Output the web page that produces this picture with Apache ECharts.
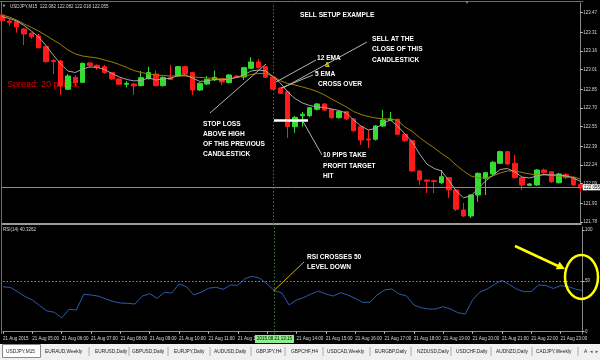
<!DOCTYPE html>
<html><head><meta charset="utf-8">
<script src="https://cdn.jsdelivr.net/npm/echarts@6/dist/echarts.min.js"></script>
<style>html,body{margin:0;padding:0;background:#000;}#c{width:600px;height:360px;}</style>
</head><body><div id="c"></div>
<script>
const categories = ["04:00","04:15","04:30","04:45","05:00","05:15","05:30","05:45","06:00","06:15","06:30","06:45","07:00","07:15","07:30","07:45","08:00","08:15","08:30","08:45","09:00","09:15","09:30","09:45","10:00","10:15","10:30","10:45","11:00","11:15","11:30","11:45","12:00","12:15","12:30","12:45","13:00","13:15","13:30","13:45","14:00","14:15","14:30","14:45","15:00","15:15","15:30","15:45","16:00","16:15","16:30","16:45","17:00","17:15","17:30","17:45","18:00","18:15","18:30","18:45","19:00","19:15","19:30","19:45","20:00","20:15","20:30","20:45","21:00","21:15","21:30","21:45","22:00","22:15","22:30","22:45","23:00","23:15","23:30","23:45"];
const timeTicks = ["21 Aug 2015","21 Aug 05:00","21 Aug 06:00","21 Aug 07:00","21 Aug 08:00","21 Aug 09:00","21 Aug 10:00","21 Aug 11:00","21 Aug 12:00","21 Aug 13:00","21 Aug 14:00","21 Aug 15:00","21 Aug 16:00","21 Aug 17:00","21 Aug 18:00","21 Aug 19:00","21 Aug 20:00","21 Aug 21:00","21 Aug 22:00","21 Aug 23:00"];
const priceTicks = [121.78,121.93,122.09,122.24,122.39,122.55,122.70,122.85,123.01,123.16,123.31,123.47];
const rsiTicks = [0,50,100];

const opens  = [123.451,123.403,123.399,123.338,123.304,123.282,123.196,123.084,123.080,122.852,122.948,122.908,123.064,123.045,123.034,122.986,122.935,122.892,122.894,122.881,122.937,122.975,122.881,122.948,122.959,123.034,122.986,122.846,122.894,122.927,122.937,122.905,122.959,122.951,123.021,123.072,123.034,122.951,122.862,122.832,122.550,122.638,122.638,122.690,122.733,122.690,122.622,122.671,122.612,122.550,122.450,122.448,122.555,122.601,122.609,122.488,122.437,122.192,122.119,122.114,122.097,122.138,122.039,121.877,121.829,121.998,122.133,122.168,122.254,122.348,122.254,122.138,122.076,122.079,122.200,122.186,122.097,122.165,122.141,122.082];
const closes = [123.405,123.391,123.355,123.298,123.276,123.187,123.074,123.076,122.878,122.959,122.905,123.061,123.042,123.029,122.986,122.935,122.892,122.900,122.878,122.945,122.986,122.881,122.948,122.931,123.034,122.975,122.846,122.900,122.932,122.948,122.910,122.967,122.948,123.026,123.072,123.026,122.948,122.852,122.819,122.550,122.625,122.650,122.703,122.733,122.684,122.622,122.671,122.612,122.517,122.442,122.442,122.555,122.604,122.612,122.488,122.437,122.192,122.119,122.109,122.106,122.146,122.039,121.883,121.829,121.998,122.173,122.178,122.262,122.348,122.248,122.138,122.079,122.087,122.200,122.178,122.106,122.168,122.138,122.079,122.055];
const lows   = [123.395,123.363,123.309,123.209,123.258,123.181,123.068,122.975,122.806,122.846,122.878,122.902,123.032,123.007,122.975,122.927,122.886,122.866,122.806,122.874,122.931,122.874,122.874,122.927,122.951,122.967,122.806,122.838,122.886,122.919,122.886,122.898,122.943,122.927,123.015,123.020,122.943,122.846,122.814,122.458,122.501,122.550,122.628,122.680,122.676,122.612,122.616,122.604,122.507,122.402,122.378,122.438,122.547,122.596,122.483,122.426,122.184,122.079,122.014,122.014,122.087,121.974,121.869,121.821,121.812,121.944,121.998,122.160,122.248,122.240,122.131,122.039,122.071,122.071,122.168,122.095,122.091,122.127,122.071,122.018];
const highs  = [123.464,123.419,123.407,123.347,123.310,123.298,123.205,123.096,123.088,122.975,122.967,123.068,123.072,123.052,123.048,122.991,122.943,122.919,122.902,122.999,123.034,123.002,122.955,123.048,123.040,123.040,122.991,122.906,122.959,123.002,122.943,122.975,122.967,123.032,123.110,123.096,123.040,122.959,122.870,122.842,122.636,122.668,122.709,122.741,122.741,122.692,122.676,122.676,122.620,122.555,122.523,122.563,122.684,122.668,122.616,122.495,122.446,122.200,122.123,122.119,122.200,122.143,122.047,121.934,122.006,122.180,122.184,122.273,122.357,122.353,122.321,122.143,122.095,122.208,122.212,122.192,122.176,122.172,122.148,122.082];

const ema5  = [123.438,123.423,123.403,123.367,123.322,123.274,123.205,123.128,123.056,122.999,122.987,123.015,123.032,123.028,123.011,122.979,122.951,122.931,122.919,122.923,122.943,122.927,122.935,122.939,122.963,122.967,122.943,122.915,122.919,122.931,122.927,122.935,122.947,122.967,122.999,123.007,122.999,122.955,122.902,122.830,122.777,122.741,122.721,122.709,122.705,122.692,122.680,122.660,122.604,122.555,122.523,122.535,122.575,122.604,122.555,122.491,122.426,122.329,122.248,122.212,122.192,122.115,122.030,121.976,121.990,122.051,122.111,122.156,122.204,122.212,122.184,122.143,122.135,122.152,122.164,122.160,122.160,122.152,122.135,122.107];
const ema12 = [123.451,123.435,123.411,123.379,123.351,123.322,123.286,123.250,123.213,123.169,123.137,123.120,123.112,123.104,123.088,123.072,123.052,123.028,123.003,122.987,122.975,122.967,122.963,122.959,122.959,122.959,122.951,122.947,122.943,122.939,122.935,122.935,122.947,122.955,122.971,122.979,122.979,122.955,122.919,122.898,122.886,122.870,122.854,122.834,122.806,122.773,122.741,122.709,122.672,122.648,122.632,122.620,122.612,122.612,122.600,122.547,122.511,122.462,122.418,122.378,122.333,122.293,122.240,122.192,122.152,122.135,122.135,122.152,122.176,122.192,122.192,122.180,122.168,122.160,122.160,122.156,122.152,122.147,122.143,122.127];
const rsi14 = [44.2,43.5,39.3,34.6,31.2,25.6,20.4,19.1,13.5,22.0,21.3,36.8,36.1,34.9,32.2,29.7,28.2,27.9,27.2,35.1,37.4,32.8,38.7,38.1,46.9,44.2,36.1,38.7,42.7,43.7,41.7,45.9,45.6,52.3,54.5,52.5,46.9,40.3,38.1,26.3,31.2,33.6,37.1,40.0,37.1,35.1,38.3,36.1,32.8,28.9,28.9,36.1,41.0,42.0,37.1,35.1,26.3,23.6,22.3,22.3,24.6,22.3,18.7,17.4,31.2,39.0,42.0,46.4,50.5,46.4,42.0,39.3,39.5,45.9,45.4,42.5,45.2,44.4,42.0,40.33];

const lastClose = 122.055;
const crossIndex = 37;
const tabs = ["USDJPY,M15","EURAUD,Weekly","EURUSD,Daily","GBPUSD,Daily","EURJPY,Daily","AUDUSD,Daily","GBPJPY,H4","GBPCHF,H4","USDCAD,Weekly","EURGBP,Daily","NZDUSD,Daily","USDCHF,Daily","AUDNZD,Daily","CADJPY,Weekly","A"];

const ohlc = opens.map((o, i) => [o, closes[i], lows[i], highs[i]]);

const chart = echarts.init(document.getElementById('c'), null, {renderer: 'canvas'});
const bold = 'bold 6.6px "Liberation Sans", Arial, sans-serif';
const small = '4.5px "Liberation Sans", Arial, sans-serif';
function txt(t, x, y, fill, font, z) {
  return {type: 'text', x: x, y: y, z: z || 100, silent: true,
    style: {text: t, font: font || bold, fill: fill || '#ffffff', textVerticalAlign: 'middle', textAlign: 'left'}};
}
function ln(x1, y1, x2, y2, stroke, w) {
  return {type: 'line', silent: true, z: 100, shape: {x1, y1, x2, y2}, style: {stroke: stroke || '#b4b4b4', lineWidth: w || 1}};
}
const tabX = [6,45,95,132,174,214,256,291,327,375,417,456,496,536,584];
const sepX = [89,129,168,210,251,285,323,370,411,451,491,532,578];
const graphics = [
  ln(0, 1.5, 583, 1.5, '#6e6e6e', 1),
  ln(1.5, 1, 1.5, 334, '#6e6e6e', 1),
  txt('▼', 2, 6, '#c8c8c8', '4px sans-serif'),
  txt('USDJPY,M15  122.082 122.082 122.018 122.055', 10, 6.5, '#d8d8d8', small),
  txt('▼', 465, 3, '#8a8a8a', '4px sans-serif'),
  txt('Spread: 20 points.', 7, 84.5, '#e60000', '9px "Liberation Sans", Arial, sans-serif', 1),
  txt('SELL SETUP EXAMPLE', 300, 15.5),
  txt('SELL AT THE', 372, 39),
  txt('CLOSE OF THIS', 372, 49.5),
  txt('CANDLESTICK', 372, 60),
  txt('12 EMA', 317, 58),
  txt('&', 325, 65, '#ffff00'),
  txt('5 EMA', 315, 74.5),
  txt('CROSS OVER', 318, 84.5),
  txt('STOP LOSS', 203, 124),
  txt('ABOVE HIGH', 203, 134),
  txt('OF THIS PREVIOUS', 203, 144.5),
  txt('CANDLESTICK', 203, 154.5),
  txt('10 PIPS TAKE', 323, 155.5),
  txt('PROFIT TARGET', 323, 166),
  txt('HIT', 323, 176.5),
  txt('RSI CROSSES 50', 307, 257),
  txt('LEVEL DOWN', 307, 267),
  txt('RSI(14) 40.3262', 3, 230, '#d8d8d8', small),
  ln(210, 113, 266, 64),
  ln(276, 82, 316, 60),
  ln(281, 88, 313, 75),
  ln(283, 88, 367, 42),
  ln(303, 121.5, 322, 155),
  ln(274, 120.5, 308, 120.5, '#ffffff', 2.5),
  ln(273.5, 291, 304, 262, '#c8b400', 1),
  ln(515, 246, 559, 266.5, '#ffff00', 2.5),
  {type: 'polygon', silent: true, z: 100, shape: {points: [[565, 269], [555.8, 269.2], [559.6, 261.8]]}, style: {fill: '#ffff00'}},
  {type: 'ellipse', silent: true, z: 100, shape: {cx: 581.5, cy: 277, rx: 16.5, ry: 22}, style: {fill: 'none', stroke: '#ffff00', lineWidth: 2.5}},
  {type: 'rect', silent: true, z: 100, shape: {x: 0, y: 344, width: 600, height: 16}, style: {fill: '#f0f0f0'}},
  {type: 'rect', silent: true, z: 101, shape: {x: 2.5, y: 344.5, width: 38, height: 13}, style: {fill: '#ffffff', stroke: '#8a8a8a', lineWidth: 1}}
];
tabs.forEach((t, i) => graphics.push(txt(t, tabX[i], 351.5, '#222222', '4.8px "Liberation Sans", Arial, sans-serif', 102)));
sepX.forEach(x => graphics.push(ln(x, 347, x, 356, '#9a9a9a', 0.8)));
graphics.push(txt('◄ ►', 589, 351.5, '#555555', '4.5px sans-serif', 102));

const option = {
  backgroundColor: '#000000',
  animation: false,
  grid: [
    {left: 2, top: 3, width: 580.6, height: 221},
    {left: 2, top: 227, width: 580.6, height: 107}
  ],
  xAxis: [
    {type: 'category', gridIndex: 0, data: categories, boundaryGap: false,
     axisLine: {show: true, lineStyle: {color: '#9a9a9a', width: 2}},
     axisTick: {show: false}, axisLabel: {show: false}, splitLine: {show: false}},
    {type: 'category', gridIndex: 1, data: categories, boundaryGap: false,
     axisLine: {show: true, lineStyle: {color: '#8a8a8a', width: 1}},
     axisTick: {show: true, interval: 3, length: 2, lineStyle: {color: '#c8c8c8'}},
     axisLabel: {show: true, interval: 3, align: 'left', margin: 2.5, color: '#d8d8d8', fontSize: 4.5,
       fontFamily: '"Liberation Sans", Arial, sans-serif',
       formatter: (v, idx) => (idx % 4 === 0 ? timeTicks[idx / 4] : '')},
     splitLine: {show: false}}
  ],
  yAxis: [
    {type: 'value', gridIndex: 0, position: 'right', min: 121.764, max: 123.548,
     axisLine: {show: true, lineStyle: {color: '#8a8a8a'}},
     axisTick: {show: true, length: 2, lineStyle: {color: '#c8c8c8'}, customValues: priceTicks},
     axisLabel: {show: true, customValues: priceTicks, margin: 2.5, color: '#d8d8d8', fontSize: 4.5,
       fontFamily: '"Liberation Sans", Arial, sans-serif', formatter: v => v.toFixed(2)},
     splitLine: {show: false}},
    {type: 'value', gridIndex: 1, position: 'right', min: -2.26, max: 102.95,
     axisLine: {show: true, lineStyle: {color: '#8a8a8a'}},
     axisTick: {show: true, length: 2, lineStyle: {color: '#c8c8c8'}, customValues: rsiTicks},
     axisLabel: {show: true, customValues: rsiTicks, margin: 2.5, color: '#d8d8d8', fontSize: 4.5,
       fontFamily: '"Liberation Sans", Arial, sans-serif'},
     splitLine: {show: false}}
  ],
  series: [
    {type: 'candlestick', xAxisIndex: 0, yAxisIndex: 0, data: ohlc, barWidth: 5,
     itemStyle: {color: '#33dd33', color0: '#ff1a1a', borderColor: '#33dd33', borderColor0: '#ff1a1a', borderWidth: 1},
     markLine: {silent: true, symbol: 'none', animation: false,
       data: [
         {yAxis: lastClose, lineStyle: {color: '#8a8a8a', type: 'solid', width: 1},
          label: {show: true, position: 'end', formatter: '122.055', backgroundColor: '#ffffff', color: '#000000',
                  fontSize: 4.5, padding: [1, 1, 0, 1], distance: 2, fontFamily: '"Liberation Sans", Arial, sans-serif'}},
         {xAxis: categories[crossIndex], lineStyle: {color: '#3d7a3d', type: [1.5, 2], width: 1}, label: {show: false}}
       ]}},
    {type: 'line', xAxisIndex: 0, yAxisIndex: 0, data: ema12, symbol: 'none', lineStyle: {color: '#9b8000', width: 1}},
    {type: 'line', xAxisIndex: 0, yAxisIndex: 0, data: ema5, symbol: 'none', lineStyle: {color: '#a8a8a8', width: 1}},
    {type: 'line', xAxisIndex: 1, yAxisIndex: 1, data: rsi14, symbol: 'none', lineStyle: {color: '#2a5caa', width: 1},
     markLine: {silent: true, symbol: 'none', animation: false,
       data: [
         {yAxis: 50, lineStyle: {color: '#8a8a8a', type: [1.5, 2], width: 1}, label: {show: false}},
         {xAxis: categories[crossIndex], lineStyle: {color: '#3d7a3d', type: [1.5, 2], width: 1},
          label: {show: true, position: 'start', formatter: '2015.08.21 13:15', backgroundColor: '#8cf08c', color: '#000000',
                  fontSize: 4.5, padding: [1.5, 2], distance: 1, fontFamily: '"Liberation Sans", Arial, sans-serif'}}
       ]}}
  ],
  graphic: {elements: graphics}
};
chart.setOption(option);
</script>
</body></html>
